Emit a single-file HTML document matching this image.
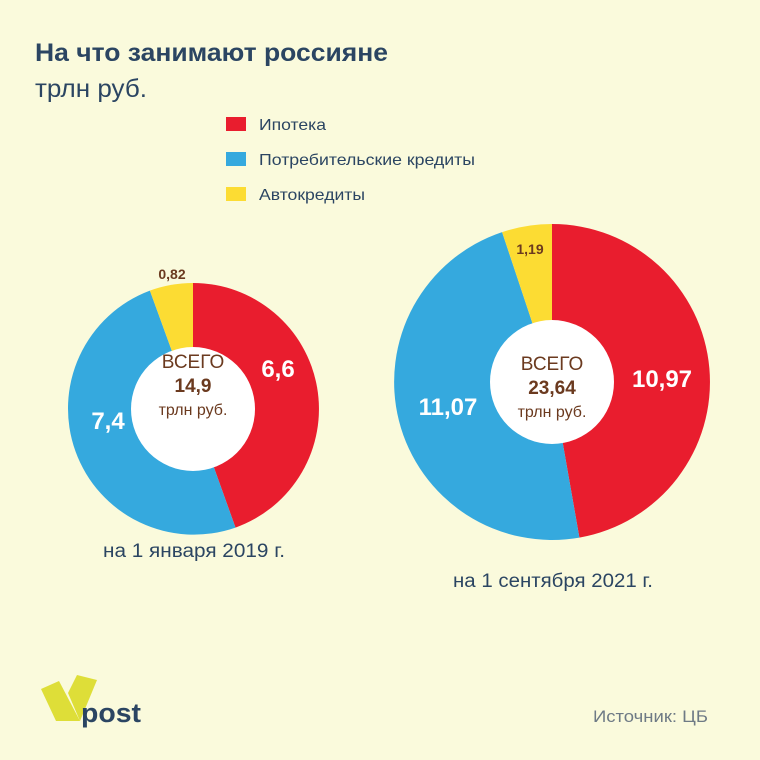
<!DOCTYPE html>
<html><head><meta charset="utf-8"><style>
html,body{margin:0;padding:0;background:#fafadc;}
svg{display:block;font-family:"Liberation Sans",sans-serif;}
</style></head><body>
<svg width="760" height="760" viewBox="0 0 760 760">
<rect width="760" height="760" fill="#fafadc"/>
<text x="35" y="61" font-size="25" font-weight="bold" fill="#2b4562" textLength="353" lengthAdjust="spacingAndGlyphs">На что занимают россияне</text>
<text x="35" y="97" font-size="25" fill="#2b4562" textLength="112" lengthAdjust="spacingAndGlyphs">трлн руб.</text>
<rect x="226" y="117" width="20" height="14" fill="#e91d2e"/>
<text x="259" y="130" font-size="16" fill="#2b4562" textLength="67" lengthAdjust="spacingAndGlyphs">Ипотека</text>
<rect x="226" y="152" width="20" height="14" fill="#35a9de"/>
<text x="259" y="165" font-size="16" fill="#2b4562" textLength="216" lengthAdjust="spacingAndGlyphs">Потребительские кредиты</text>
<rect x="226" y="187" width="20" height="14" fill="#fcdc33"/>
<text x="259" y="200" font-size="16" fill="#2b4562" textLength="106" lengthAdjust="spacingAndGlyphs">Автокредиты</text>

<path d="M193 409 L193 283 A126 126 0 0 1 235.5 527.6 Z" fill="#e91d2e"/>
<path d="M193 409 L235.5 527.6 A126 126 0 0 1 149.9 290.6 Z" fill="#35a9de"/>
<path d="M193 409 L149.9 290.6 A126 126 0 0 1 193 283 Z" fill="#fcdc33"/>
<circle cx="193" cy="409" r="62" fill="#fff"/>

<path d="M552 382 L552 224 A158 158 0 0 1 579.4 537.6 Z" fill="#e91d2e"/>
<path d="M552 382 L579.4 537.6 A158 158 0 0 1 502.1 232.1 Z" fill="#35a9de"/>
<path d="M552 382 L502.1 232.1 A158 158 0 0 1 552 224 Z" fill="#fcdc33"/>
<circle cx="552" cy="382" r="62" fill="#fff"/>

<g text-anchor="middle">
<text x="278" y="377" font-size="24" font-weight="bold" fill="#fff">6,6</text>
<text x="108" y="429" font-size="24" font-weight="bold" fill="#fff">7,4</text>
<text x="172" y="279" font-size="14" font-weight="bold" fill="#6b3a1f">0,82</text>
<text x="193" y="368" font-size="19" fill="#6b3a1f">ВСЕГО</text>
<text x="193" y="392" font-size="19" font-weight="bold" fill="#6b3a1f">14,9</text>
<text x="193" y="415" font-size="16" fill="#6b3a1f">трлн руб.</text>

<text x="662" y="387" font-size="24" font-weight="bold" fill="#fff">10,97</text>
<text x="448" y="415" font-size="24" font-weight="bold" fill="#fff">11,07</text>
<text x="530" y="254" font-size="14" font-weight="bold" fill="#6b3a1f">1,19</text>
<text x="552" y="370" font-size="19" fill="#6b3a1f">ВСЕГО</text>
<text x="552" y="394" font-size="19" font-weight="bold" fill="#6b3a1f">23,64</text>
<text x="552" y="417" font-size="16" fill="#6b3a1f">трлн руб.</text>

<text x="194" y="557" font-size="19" fill="#2b4562" textLength="182" lengthAdjust="spacingAndGlyphs">на 1 января 2019 г.</text>
<text x="553" y="587" font-size="19" fill="#2b4562" textLength="200" lengthAdjust="spacingAndGlyphs">на 1 сентября 2021 г.</text>
</g>

<polygon points="41,689 59,681 80,721 56,721" fill="#dede38"/>
<polygon points="77,675 97,680 80,721 68,693" fill="#dede38"/>
<text x="81" y="722" font-size="27" font-weight="bold" fill="#2b4562" textLength="60" lengthAdjust="spacingAndGlyphs">post</text>
<text x="708" y="722" font-size="17" fill="#6e7a85" text-anchor="end" textLength="115" lengthAdjust="spacingAndGlyphs">Источник: ЦБ</text>
</svg>
</body></html>
